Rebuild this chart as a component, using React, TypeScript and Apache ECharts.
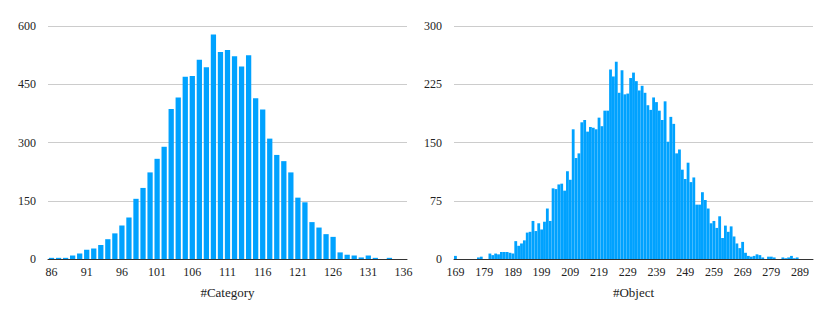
import React, { useEffect, useRef } from "react";
import * as echarts from "echarts";

const categoryLabels: string[] = Array.from({ length: 51 }, (_, i) => String(86 + i));
const categoryValues: number[] = [
  3, 3, 3, 9, 14, 24, 27, 36, 51, 66,
  86, 107, 155, 183, 223, 258, 289, 386, 416, 469,
  471, 513, 494, 578, 533, 538, 522, 496, 525, 414,
  385, 310, 268, 252, 223, 158, 146, 95, 81, 64,
  57, 17, 11, 9, 4, 9, 3, 0, 3, 0,
  0,
];

const objectLabels: string[] = Array.from({ length: 125 }, (_, i) => String(169 + i));
const objectValues: number[] = [
  4, 0, 0, 0, 0, 0, 0, 0, 2, 3,
  0, 0, 7, 5, 7, 6, 9, 9, 9, 8,
  7, 23, 17, 20, 24, 34, 35, 49, 36, 46,
  38, 48, 65, 49, 91, 90, 96, 97, 88, 113,
  102, 167, 130, 136, 176, 179, 164, 170, 169, 167,
  182, 171, 191, 191, 244, 235, 254, 214, 243, 212,
  213, 233, 240, 229, 217, 223, 214, 198, 192, 208,
  202, 191, 179, 203, 151, 183, 174, 136, 141, 115,
  103, 124, 99, 105, 70, 70, 86, 76, 65, 46,
  49, 40, 55, 27, 43, 35, 42, 29, 20, 14,
  22, 8, 4, 3, 4, 6, 5, 2, 0, 3,
  3, 2, 0, 0, 2, 1, 2, 4, 1, 2,
  0, 0, 0, 0, 0,
];

const leftTicks = { min: 0, max: 600, interval: 150 };
const rightTicks = { min: 0, max: 300, interval: 75 };

const FONT = "'Liberation Serif', 'Times New Roman', serif";
const BAR = "#00a2ff";

export default function App() {
  const ref = useRef<HTMLDivElement>(null);
  useEffect(() => {
    document.body.style.margin = "0";
    const chart = echarts.init(ref.current!, null, { renderer: "svg" });
    const xAxisCommon = (data: string[], interval: number, name: string, gridIndex: number) => ({
      type: "category" as const,
      gridIndex,
      data,
      name,
      nameLocation: "middle" as const,
      nameGap: 27,
      nameTextStyle: { fontFamily: FONT, fontSize: 13, color: "#222" },
      axisTick: { show: false },
      axisLine: { show: true, lineStyle: { color: "#333", width: 1 } },
      axisLabel: { interval, fontFamily: FONT, fontSize: 12, color: "#222", margin: 7 },
      splitLine: { show: false },
    });
    const yAxisCommon = (t: { min: number; max: number; interval: number }, gridIndex: number) => ({
      type: "value" as const,
      gridIndex,
      min: t.min,
      max: t.max,
      interval: t.interval,
      axisLine: { show: false },
      axisTick: { show: false },
      axisLabel: { fontFamily: FONT, fontSize: 12, color: "#222", margin: 12 },
      splitLine: { show: true, lineStyle: { color: "#cccccc", width: 1 } },
    });
    chart.setOption({
      animation: false,
      backgroundColor: "#ffffff",
      grid: [
        { left: 48, right: 423, top: 26, bottom: 53 },
        { left: 454, right: 17, top: 26, bottom: 53 },
      ],
      xAxis: [
        xAxisCommon(categoryLabels, 4, "#Category", 0),
        xAxisCommon(objectLabels, 9, "#Object", 1),
      ],
      yAxis: [yAxisCommon(leftTicks, 0), yAxisCommon(rightTicks, 1)],
      series: [
        {
          type: "bar",
          xAxisIndex: 0,
          yAxisIndex: 0,
          data: categoryValues,
          barCategoryGap: "25%",
          itemStyle: { color: BAR },
        },
        {
          type: "bar",
          xAxisIndex: 1,
          yAxisIndex: 1,
          data: objectValues,
          barCategoryGap: "2%",
          itemStyle: { color: BAR },
        },
      ],
    });
    return () => chart.dispose();
  }, []);
  return <div ref={ref} style={{ width: 830, height: 312 }} />;
}
